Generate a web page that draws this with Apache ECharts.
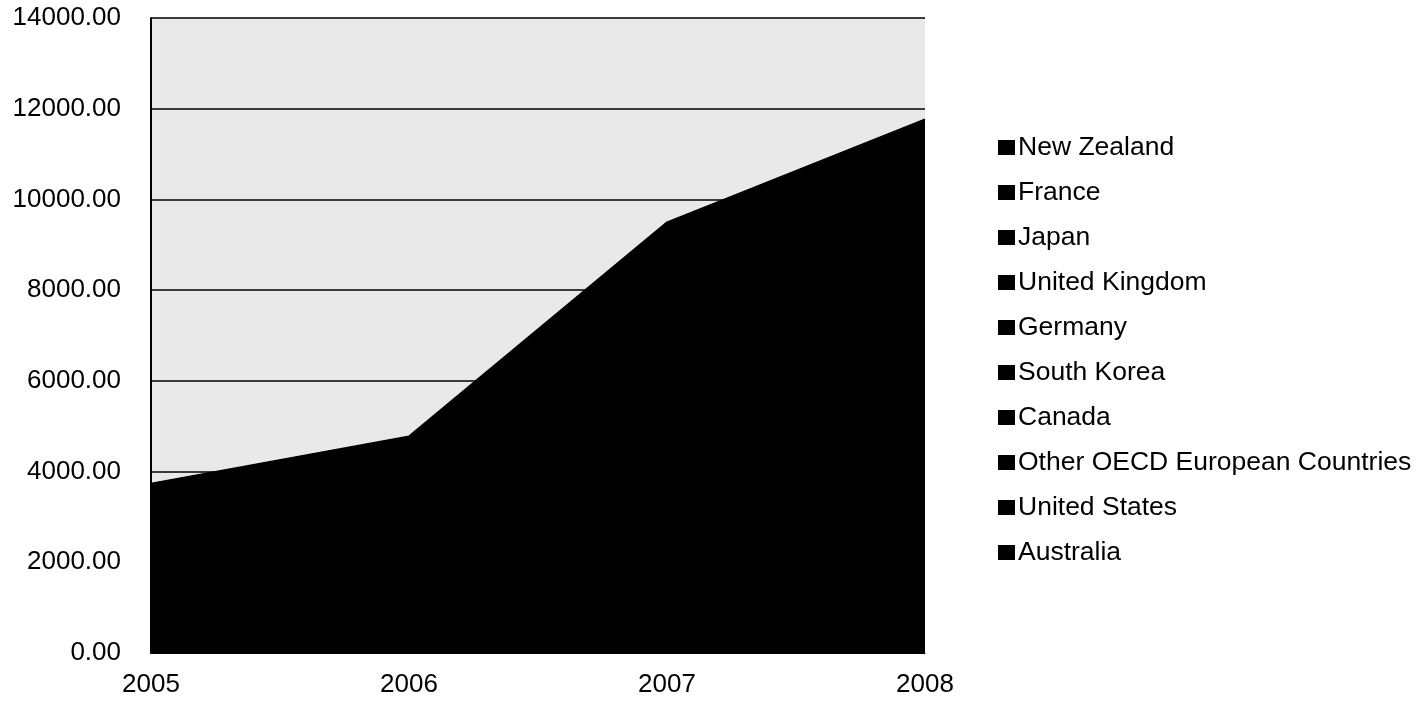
<!DOCTYPE html>
<html>
<head>
<meta charset="utf-8">
<title>Stacked area by country, 2005–2008</title>
<script src="https://cdn.jsdelivr.net/npm/echarts@6/dist/echarts.min.js"></script>
<style>
  html, body { margin: 0; padding: 0; background: #ffffff; }
  #chart { width: 1422px; height: 703px; }
</style>
</head>
<body>
<div id="chart"></div>
<script>
// Years on the category axis
const years = ['2005', '2006', '2007', '2008'];

// Y-axis tick values
const yTicks = [0, 2000, 4000, 6000, 8000, 10000, 12000, 14000];

// Series values per country (stacked from the bottom up)
const australia       = [1800, 2200, 4200, 5100];
const unitedStates    = [600, 800, 1700, 2100];
const otherOecdEurope = [350, 450, 900, 1150];
const canada          = [250, 320, 650, 800];
const southKorea      = [200, 260, 520, 650];
const germany         = [170, 220, 450, 560];
const unitedKingdom   = [140, 180, 380, 470];
const japan           = [110, 150, 310, 390];
const france          = [70, 110, 220, 300];
const newZealand      = [50, 90, 170, 250];

// Stack order, bottom to top
const stackOrder = [
  ['Australia', australia],
  ['United States', unitedStates],
  ['Other OECD European Countries', otherOecdEurope],
  ['Canada', canada],
  ['South Korea', southKorea],
  ['Germany', germany],
  ['United Kingdom', unitedKingdom],
  ['Japan', japan],
  ['France', france],
  ['New Zealand', newZealand]
];

// Legend lists the top of the stack first
const legendOrder = stackOrder.map(s => s[0]).slice().reverse();

const FONT = "'Liberation Sans', Arial, Helvetica, sans-serif";

const chart = echarts.init(document.getElementById('chart'), null, { renderer: 'canvas' });

chart.setOption({
  backgroundColor: '#ffffff',
  animation: false,
  grid: {
    left: 151,
    right: 497,
    top: 18,
    bottom: 50,
    show: true,
    backgroundColor: '#e9e9e9',
    borderWidth: 0
  },
  legend: {
    orient: 'vertical',
    left: 993,
    top: 129,
    data: legendOrder,
    icon: 'rect',
    itemWidth: 17,
    itemHeight: 15,
    itemGap: 18,
    textStyle: {
      fontFamily: FONT,
      fontSize: 26.5,
      lineHeight: 26,
      color: '#000000',
      padding: [0, 0, 0, -2]
    }
  },
  xAxis: {
    type: 'category',
    data: years,
    boundaryGap: false,
    axisLine: { show: true, lineStyle: { color: '#000000', width: 1 } },
    axisTick: { show: false },
    axisLabel: {
      fontFamily: FONT,
      fontSize: 26,
      color: '#000000',
      margin: 19
    },
    splitLine: { show: false }
  },
  yAxis: {
    type: 'value',
    min: yTicks[0],
    max: yTicks[yTicks.length - 1],
    interval: 2000,
    axisLine: { show: true, lineStyle: { color: '#000000', width: 2 } },
    axisTick: { show: false },
    axisLabel: {
      fontFamily: FONT,
      fontSize: 26,
      color: '#000000',
      margin: 30,
      formatter: v => v.toFixed(2)
    },
    splitLine: { show: true, lineStyle: { color: '#000000', width: 1.5 } }
  },
  series: stackOrder.map(([name, values]) => ({
    name: name,
    type: 'line',
    stack: 'total',
    data: values,
    symbol: 'none',
    lineStyle: { width: 1.5, color: '#000000' },
    areaStyle: { color: '#000000', opacity: 1 },
    itemStyle: { color: '#000000' },
    emphasis: { disabled: true }
  }))
});
</script>
</body>
</html>
